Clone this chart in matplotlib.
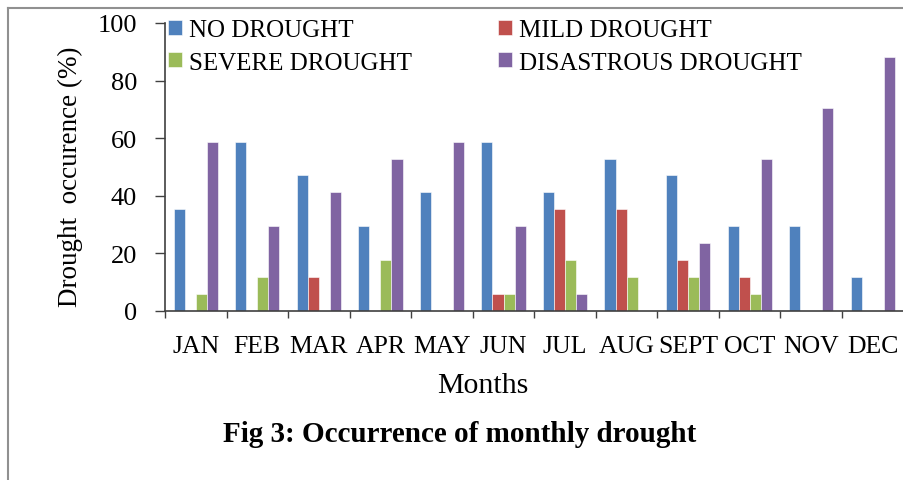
import matplotlib.pyplot as plt
from matplotlib.lines import Line2D

months = ['JAN', 'FEB', 'MAR', 'APR', 'MAY', 'JUN', 'JUL', 'AUG', 'SEPT', 'OCT', 'NOV', 'DEC']
no_drought = [35.3, 58.8, 47.1, 29.4, 41.2, 58.8, 41.2, 52.9, 47.1, 29.4, 29.4, 11.8]
mild = [0, 0, 11.8, 0, 0, 5.9, 35.3, 35.3, 17.6, 11.8, 0, 0]
severe = [5.9, 11.8, 0, 17.6, 0, 5.9, 17.6, 11.8, 11.8, 5.9, 0, 0]
disastrous = [58.8, 29.4, 41.2, 52.9, 58.8, 29.4, 5.9, 0, 23.5, 52.9, 70.6, 88.2]

series = [no_drought, mild, severe, disastrous]
names = ['NO DROUGHT', 'MILD DROUGHT', 'SEVERE DROUGHT', 'DISASTROUS DROUGHT']
colors = ['#4F81BD', '#C0504D', '#9BBB59', '#8064A2']

plt.rcParams['font.family'] = 'Liberation Serif'

fig = plt.figure(figsize=(9.04, 4.81), dpi=100)
ax = fig.add_axes([165/904, 1-312/481, 0.817, 288/481])

w = 0.18
bars = []
for k, vals in enumerate(series):
    xs = [i + 0.5 + (k - 1.5) * w for i in range(len(months))]
    b = ax.bar(xs, vals, width=w, color=colors[k], edgecolor='white', linewidth=0.4, label=names[k])
    bars.append(b)

ax.set_xlim(0, 12)
ax.set_ylim(0, 100)
ax.set_yticks(range(0, 101, 20))
ax.set_xticks(range(0, 13))
ax.set_xticklabels([])
ax.set_xticks([i + 0.5 for i in range(12)], minor=True)
ax.set_xticklabels(months, minor=True, fontsize=18.5)
ax.tick_params(axis='x', which='major', direction='out', length=5, width=1, color='#404040')
ax.tick_params(axis='x', which='minor', length=0, pad=17)
ax.tick_params(axis='y', direction='out', length=7, width=1, color='#404040', labelsize=19, pad=13)
for s in ['top', 'right']:
    ax.spines[s].set_visible(False)
for s in ['left', 'bottom']:
    ax.spines[s].set_color('#404040')
    ax.spines[s].set_linewidth(1.2)

# legend, split in two columns
leg_kw = dict(loc='upper left', bbox_transform=fig.transFigure, frameon=False, fontsize=18,
              handlelength=0.55, handleheight=0.55, handletextpad=0.3, labelspacing=0.42,
              borderpad=0, borderaxespad=0)
leg1 = ax.legend([bars[0], bars[2]], [names[0], names[2]],
                 bbox_to_anchor=(168/904, 1-20/481), **leg_kw)
ax.add_artist(leg1)
ax.legend([bars[1], bars[3]], [names[1], names[3]],
          bbox_to_anchor=(498/904, 1-20/481), **leg_kw)

fig.text(70/904, 1-177/481, 'Drought  occurence (%)', rotation=90, fontsize=19.5,
         ha='center', va='center')
fig.text(483/904, 1-386/481, 'Months', fontsize=21.5, ha='center', va='center')
fig.text(460/904, 1-435/481, 'Fig 3: Occurrence of monthly drought', fontsize=21,
         fontweight='bold', ha='center', va='center')

# page border
fig.add_artist(Line2D([8/904, 8/904], [0, 1-9/481], color='#909090', lw=1.5, transform=fig.transFigure))
fig.add_artist(Line2D([8/904, 1], [1-9/481, 1-9/481], color='#909090', lw=1.5, transform=fig.transFigure))

fig.savefig('out.png', dpi=100)
